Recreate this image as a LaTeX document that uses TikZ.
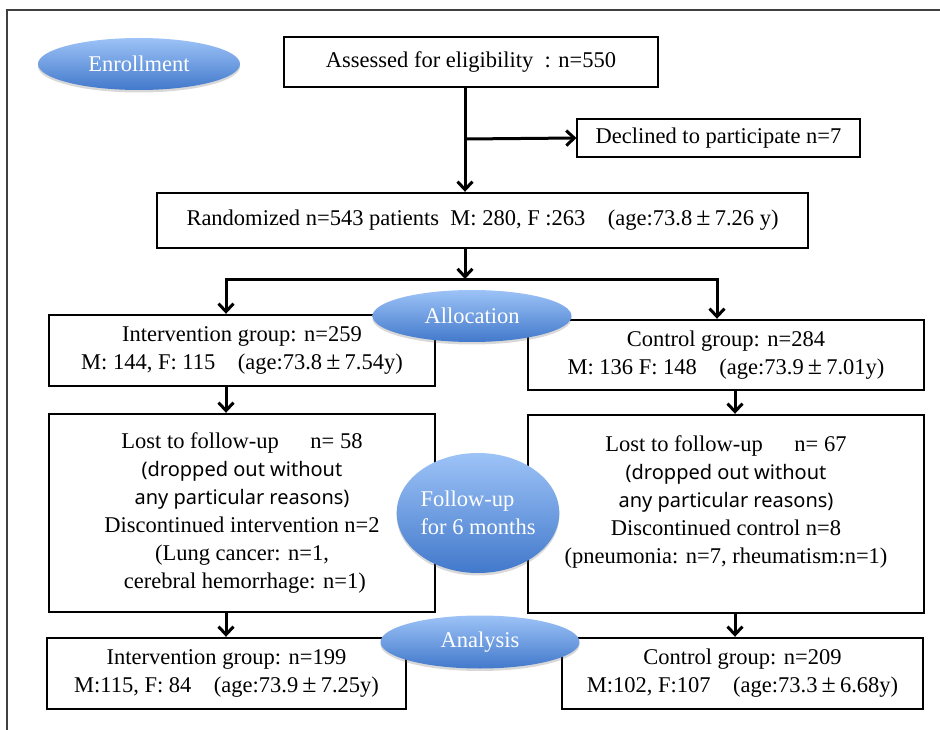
\documentclass[tikz,border=0pt]{standalone}
\usepackage{fontspec}
\setmainfont{Liberation Serif}
\newfontfamily\jpsans{Noto Sans}
\usetikzlibrary{arrows.meta,shadows,shapes.geometric}
\definecolor{elltop}{HTML}{9DC3F7}
\definecolor{ellbot}{HTML}{4279CB}
\newcommand{\pmw}{\makebox[1em]{\scalebox{1.15}{±}}}
\begin{document}
\begin{tikzpicture}[x=1pt,y=-1pt,
  txt/.style={font=\fontsize{22.5}{28}\selectfont},
  box/.style={draw, line width=2.4pt, inner sep=0pt, align=center, txt},
  thinbox/.style={draw, line width=1.1pt, inner sep=0pt, align=center, txt},
  phase/.style={ellipse, inner sep=0pt, top color=elltop, bottom color=ellbot,
    text=white, txt, drop shadow={shadow xshift=0pt, shadow yshift=-2.5pt, opacity=0.25, fill=black!60}},
  conn/.style={line width=3pt, line join=miter},
  arr/.style={conn, -{Straight Barb[length=8pt,width=15pt]}}
]
\useasboundingbox (0,0) rectangle (940,730);
\fill[white] (0,0) rectangle (940,730);
\draw[line width=1.2pt, black!75] (7,730) -- (7,10) -- (940,10);

% boxes
\node[box, minimum width=374pt, minimum height=50pt] (assess) at (471,62) {Assessed for eligibility\ \ : n=550};
\node[thinbox, minimum width=283pt, minimum height=38pt] (declined) at (718.5,138) {Declined to participate n=7};
\node[box, minimum width=651pt, minimum height=55pt] (rand) at (482.5,220.5) {Randomized n=543 patients\ \ M: 280, F :263\ \ \ \ (age:73.8\pmw7.26 y)};
\node[box, minimum width=386pt, minimum height=71pt] (intv) at (242,350.5) {Intervention group: n=259\\M: 144, F: 115\ \ \ \ (age:73.8\pmw7.54y)};
\node[box, minimum width=396pt, minimum height=70pt] (ctrl) at (726,355) {Control group: n=284\\M: 136 F: 148\ \ \ \ (age:73.9\pmw7.01y)};
\node[box, minimum width=386pt, minimum height=198pt] (lostL) at (242,513) {Lost to follow-up\hspace{1.4em}n= 58\\{\jpsans\fontsize{20}{28}\selectfont (dropped out without}\\{\jpsans\fontsize{20}{28}\selectfont any particular reasons)}\\Discontinued intervention n=2\\(Lung cancer: n=1,\\\ cerebral hemorrhage: n=1)};
\node[box, minimum width=396pt, minimum height=198pt] (lostR) at (726,514) {Lost to follow-up\hspace{1.4em}n= 67\\{\jpsans\fontsize{20}{28}\selectfont (dropped out without}\\{\jpsans\fontsize{20}{28}\selectfont any particular reasons)}\\Discontinued control n=8\\(pneumonia: n=7, rheumatism:n=1)\\\mbox{}};
\node[box, minimum width=359pt, minimum height=71pt] (anaL) at (226.5,673.5) {Intervention group: n=199\\M:115, F: 84\ \ \ \ (age:73.9\pmw7.25y)};
\node[box, minimum width=361pt, minimum height=71pt] (anaR) at (742.5,673.5) {Control group: n=209\\M:102, F:107\ \ \ \ (age:73.3\pmw6.68y)};

% connectors
\coordinate (c1) at (465,139);
\coordinate (s) at (465,279);
\coordinate (sl) at (226,279);
\coordinate (sr) at (717,279);
\coordinate (xl) at (226,0);
\coordinate (xr) at (735,0);
\draw[arr] (c1 |- assess.south) -- (c1 |- rand.north);
\draw[arr] (c1) -- (declined.west);
\draw[arr] (s |- rand.south) -- (s);
\draw[conn, {Straight Barb[length=8pt,width=15pt]}-{Straight Barb[length=8pt,width=15pt]}] (sl |- intv.north) -- (sl) -- (sr) -- (sr |- ctrl.north);
\draw[arr] (xl |- intv.south) -- (xl |- lostL.north);
\draw[arr] (xr |- ctrl.south) -- (xr |- lostR.north);
\draw[arr] (xl |- lostL.south) -- (xl |- anaL.north);
\draw[arr] (xr |- lostR.south) -- (xr |- anaR.north);

% phase ellipses
\node[phase, minimum width=202pt, minimum height=52pt] (enroll) at (139,64) {Enrollment};
\node[phase, minimum width=199pt, minimum height=52pt] (alloc) at (472,316) {Allocation};
\node[phase, minimum width=142pt, minimum height=120pt, align=left] (follow) at (478,513) {Follow-up\\for 6 months};
\node[phase, minimum width=199pt, minimum height=53pt] (analysis) at (480,642) {Analysis};
\end{tikzpicture}
\end{document}
